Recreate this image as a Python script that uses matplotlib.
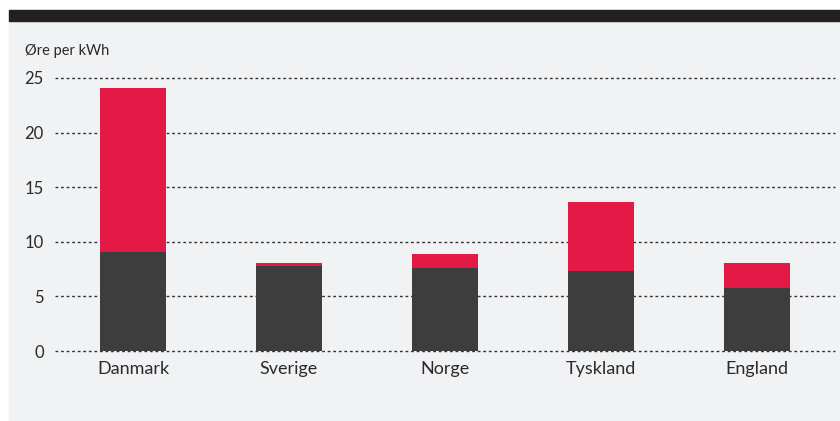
import matplotlib
matplotlib.use("Agg")
import matplotlib.pyplot as plt
from matplotlib.patches import Rectangle

# Elpris fordelt på to komponenter, øre per kWh
lande = ['Danmark', 'Sverige', 'Norge', 'Tyskland', 'England']
grundpris = [9.1, 7.8, 7.6, 7.3, 5.8]
tillaeg = [15.0, 0.25, 1.25, 6.3, 2.3]
yticks = [0, 5, 10, 15, 20, 25]

MORK = '#3d3d3d'
ROD = '#e31a45'
BAGGRUND = '#f1f2f4'
TEKST = '#2a2a2a'

plt.rcParams['font.family'] = ['Lato', 'DejaVu Sans']

W, H = 840, 421
fig = plt.figure(figsize=(W / 100, H / 100), dpi=100)
fig.patch.set_facecolor('white')

# baggrundspanel og mørk top-bjælke (under akserne)
fig.patches.append(Rectangle((9 / W, 0), 1 - 9 / W, 1 - 21 / H,
                             transform=fig.transFigure, color=BAGGRUND, zorder=-10))
fig.patches.append(Rectangle((9 / W, 1 - 21 / H), 1 - 9 / W, 11 / H,
                             transform=fig.transFigure, color='#231f20', zorder=-10))

ax = fig.add_axes([55 / W, (H - 351) / H, 780 / W, 273 / H])
ax.set_facecolor('none')

x = range(len(lande))
ax.bar(x, grundpris, width=0.42, color=MORK, zorder=3)
ax.bar(x, tillaeg, width=0.42, bottom=grundpris, color=ROD, zorder=3)

for v in yticks:
    ax.axhline(v, color='#333333', lw=1.0, ls=(0, (2, 2)), zorder=1, clip_on=False)

ax.set_xlim(-0.5, 4.5)
ax.set_ylim(0, 25)
ax.set_yticks(yticks)
ax.set_yticklabels([str(v) for v in yticks], fontsize=12, color=TEKST)
ax.set_xticks(list(x))
ax.set_xticklabels(lande, fontsize=13, color=TEKST)
ax.tick_params(axis='both', length=0)
ax.tick_params(axis='y', pad=8)
ax.tick_params(axis='x', pad=7)
for s in ax.spines.values():
    s.set_visible(False)

fig.text(25 / W, 1 - 51 / H, 'Øre per kWh', fontsize=10.5, color=TEKST, va='center', ha='left')

fig.savefig('out.png', dpi=100)
